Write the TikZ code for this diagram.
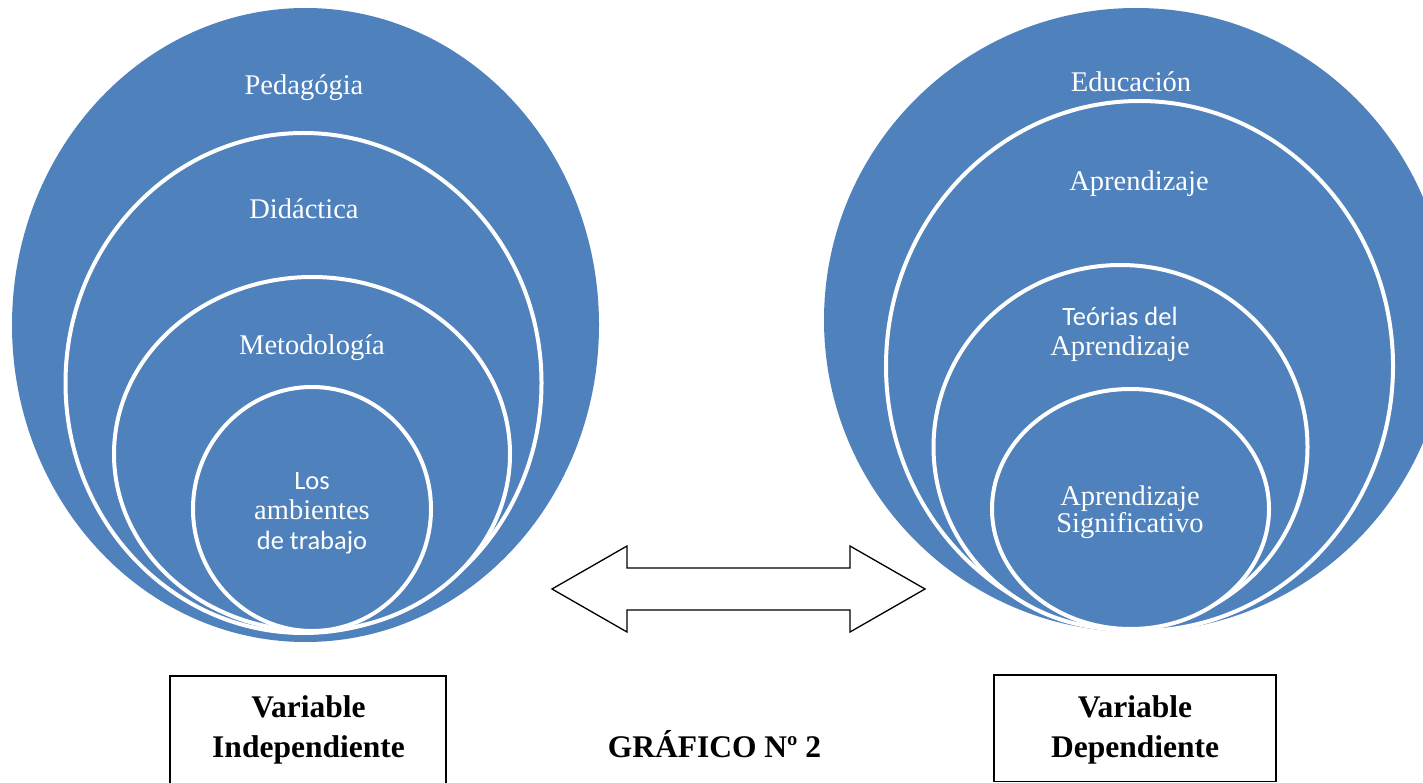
\documentclass[tikz,border=0pt]{standalone}
\usepackage{fontspec}
\setmainfont{Liberation Serif}
\newfontfamily\calfont{Carlito}
\usepackage{xcolor}
\definecolor{ringblue}{HTML}{4F81BD}
\newcommand{\ellring}[5]{
    \pgfmathsetmacro{\rcx}{#1}
    \pgfmathsetmacro{\rcy}{#2}
    \pgfmathsetmacro{\rrx}{#3}
    \pgfmathsetmacro{\rry}{#4}
    \filldraw[#5] (\rcx, \rcy) ellipse [x radius=\rrx, y radius=\rry];
}

\begin{document}
\begin{tikzpicture}[x=1pt, y=-1pt,
    outerring/.style={fill=ringblue, draw=none},
    innerring/.style={fill=ringblue, draw=white, line width=4pt},
    lbl/.style={text=white, anchor=base, align=center, inner sep=0pt, font=\fontsize{28.5}{30}\selectfont},
    varlbl/.style={anchor=base, align=center, inner sep=0pt, font=\fontsize{31.5}{40}\selectfont\bfseries},
    blackline/.style={draw=black, line width=1.3pt, line join=miter}]
                \useasboundingbox (0, 0) rectangle (1423, 783);
                % independent variable
                \ellring{305.5}{325}{293.5}{317}{outerring}
                \ellring{303.5}{383}{238}{250}{innerring}
                \ellring{312}{454}{198}{177}{innerring}
                \ellring{312}{509}{119}{122}{innerring}
                \node[lbl] (pedag) at (304, 95) {Pedagógia};
                \node[lbl] (didac) at (304, 219) {Didáctica};
                \node[lbl] (metod) at (312, 354) {Metodología};
                % base of a multi-line node = last line
                \node[lbl, font=\fontsize{28.5}{30}\selectfont] (ambient) at (312, 549)
                    {{\calfont\fontsize{26.5}{30}\selectfont Los}\\ambientes\\{\calfont\fontsize{26.5}{30}\selectfont de trabajo}};
                % dependent variable
                \ellring{1136}{320}{312}{312}{outerring}
                \ellring{1139.5}{366}{253.5}{265}{innerring}
                \ellring{1120.5}{447}{187}{182}{innerring}
                \ellring{1130.5}{509}{138.5}{120}{innerring}
                \node[lbl] (educ) at (1131, 92) {Educación};
                \node[lbl] (aprend) at (1139, 191) {Aprendizaje};
                \node[lbl, font=\fontsize{28.5}{29}\selectfont] (teorias) at (1120, 355)
                    {{\calfont\fontsize{26.5}{29}\selectfont Teórias del}\\Aprendizaje};
                \node[lbl, font=\fontsize{28.5}{27}\selectfont] (signif) at (1130, 532) {Aprendizaje\\Significativo};
                % double arrow
                \draw[blackline, fill=white] (552, 589) -- (627, 546) -- (627, 568) -- (850, 568) -- (850, 546)
                    -- (925, 589) -- (850, 632) -- (850, 610) -- (627, 610) -- (627, 632) -- cycle;
                % boxes
                \draw[blackline] (170, 795) -- (170, 676) -- (446, 676) -- (446, 795);
                \draw[blackline] (994, 675) rectangle (1276, 781.5);
                \node[varlbl] (indep) at (308.5, 757) {Variable\\Independiente};
                \node[varlbl] (dep) at (1135, 757) {Variable\\Dependiente};
                \node[varlbl] (grafico) at (714.5, 757) {GRÁFICO Nº 2};
            \end{tikzpicture}
\end{document}
